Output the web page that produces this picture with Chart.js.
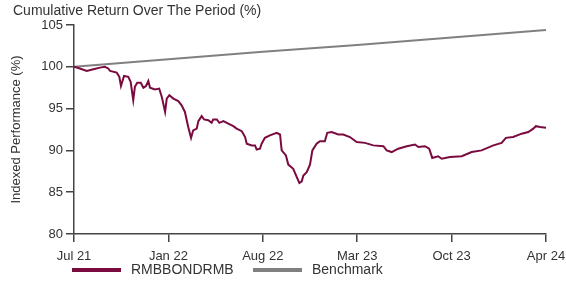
<!DOCTYPE html>
<html>
<head>
<meta charset="utf-8">
<script src="https://cdn.jsdelivr.net/npm/chart.js@4/dist/chart.umd.min.js"></script>
<style>
html,body{margin:0;padding:0;background:#fff;}
#wrap{width:566px;height:287px;position:relative;}
</style>
</head>
<body>
<div id="wrap"><canvas id="c" width="566" height="287"></canvas></div>
<script>
// x positions (0..200 over the period) and fund index values
const fundX = [0,2.5,5.4,8.2,11,13.1,14.5,15.3,18.1,19.2,19.9,21.2,23,24,25.1,25.8,26.8,28.3,29.4,30.5,31.5,32.2,34.3,36.1,37.2,38.6,39.3,40.4,42.1,44.2,45.6,47,48.4,49.6,50.5,52,52.7,54.1,55.1,56.9,58.3,59,60.5,61.6,63.3,65.4,67.5,68.9,71.1,72.5,73.2,75.3,76.7,77.4,78.8,79.5,80.9,83,85.9,87.3,88,89.8,90.8,92.9,94.4,95.5,96.5,97.2,98.6,100,101,102.8,104.2,106.3,107.3,109.2,112,114.1,116.9,119.8,123.3,126.8,131.1,132.5,134.6,137.4,141,144.5,145.9,148.7,150.5,151.8,154.3,155.8,159.3,164.3,168.5,172.7,177.7,181.2,183,186.1,189.7,192.5,194.6,195.7,197.5,200];
const fundY = [100,99.8,99.5,99.7,99.9,100,99.8,99.5,99.3,98.8,97.7,98.9,98.8,98.2,96,97.6,98.1,98.1,97.5,97.7,98.3,97.5,97.3,97.4,96.4,94.6,96.2,96.6,96.2,95.9,95.4,94.6,92.8,91.5,92.4,92.6,93.5,94.1,93.7,93.6,93.3,93.7,93.7,93.3,93.5,93.2,92.9,92.6,92.3,91.6,90.8,90.6,90.6,90.1,90.2,90.8,91.5,91.8,92.1,91.9,90,89.4,88.3,87.8,86.8,86.1,86.3,87,87.4,88.3,90,90.8,91.1,91.1,92.1,92.2,91.9,91.9,91.6,91,90.9,90.6,90.5,90,89.8,90.2,90.5,90.7,90.4,90.5,90.2,89.1,89.3,89,89.2,89.3,89.8,90,90.6,90.9,91.5,91.6,92,92.2,92.6,92.9,92.8,92.7];
const benchX = [0,40,80,120,160,200];
const benchY = [100,100.9,101.8,102.6,103.5,104.4];
const tickPos = [0,40,80,120,160,200];
const tickLabels = ['Jul 21','Jan 22','Aug 22','Mar 23','Oct 23','Apr 24'];
const seriesNames = ['RMBBONDRMB','Benchmark'];
const yTicks = [80,85,90,95,100,105];

const FONT = "'Liberation Sans', Arial, sans-serif";
const TXT = '#333333';
const AX = '#444444';
const C1 = '#7a0b3f';
const C2 = '#808080';

const overlay = {
  id:'overlay',
  afterDraw(chart){
    const ctx = chart.ctx;
    ctx.save();
    ctx.fillStyle = TXT;
    ctx.font = '14px ' + FONT;
    ctx.textBaseline = 'middle';
    ctx.textAlign = 'left';
    ctx.fillText('Cumulative Return Over The Period (%)', 13, 11);
    // legend
    const ly = 270;
    const items = [[72, C1, seriesNames[0]], [253, C2, seriesNames[1]]];
    ctx.font = '14px ' + FONT;
    items.forEach(([x, col, name]) => {
      ctx.strokeStyle = col;
      ctx.lineWidth = 4;
      ctx.beginPath();
      ctx.moveTo(x, ly);
      ctx.lineTo(x + 49, ly);
      ctx.stroke();
      ctx.fillStyle = TXT;
      ctx.fillText(name, x + 59, ly);
    });
    ctx.restore();
  }
};

new Chart(document.getElementById('c'), {
  type:'line',
  data:{
    datasets:[
      {label:seriesNames[1], data:benchX.map((x,i)=>({x, y:benchY[i]})), borderColor:C2, borderWidth:2, pointRadius:0, tension:0, order:2},
      {label:seriesNames[0], data:fundX.map((x,i)=>({x, y:fundY[i]})), borderColor:C1, borderWidth:2, pointRadius:0, tension:0, order:1}
    ]
  },
  options:{
    responsive:false,
    animation:false,
    events:[],
    layout:{padding:{left:0, right:20, top:25, bottom:20}},
    plugins:{legend:{display:false}, title:{display:false}, tooltip:{enabled:false}},
    scales:{
      x:{
        type:'linear', min:0, max:200,
        afterBuildTicks(s){ s.ticks = tickPos.map(v=>({value:v})); },
        afterFit(s){ s.height = 33; s.paddingLeft = 0; s.paddingRight = 0; },
        ticks:{ callback:(v)=>{ const i = tickPos.indexOf(v); return i>=0 ? tickLabels[i] : ''; }, color:TXT, font:{family:FONT, size:13}, padding:7, maxRotation:0, autoSkip:false },
        grid:{display:true, drawOnChartArea:false, drawTicks:true, tickLength:8, color:AX, lineWidth:1.5},
        border:{display:true, color:AX, width:1.5}
      },
      y:{
        min:80, max:105,
        afterBuildTicks(s){ s.ticks = yTicks.map(v=>({value:v})); },
        afterFit(s){ s.width = 74; s.paddingTop = 0; s.paddingBottom = 0; },
        ticks:{ color:TXT, font:{family:FONT, size:13}, padding:3 },
        grid:{display:true, drawOnChartArea:false, drawTicks:true, tickLength:8, color:AX, lineWidth:1.5},
        border:{display:true, color:AX, width:1.5},
        title:{display:true, text:'Indexed Performance (%)', color:TXT, font:{family:FONT, size:13}, padding:{top:9, bottom:0}}
      }
    }
  },
  plugins:[overlay]
});
</script>
</body>
</html>
